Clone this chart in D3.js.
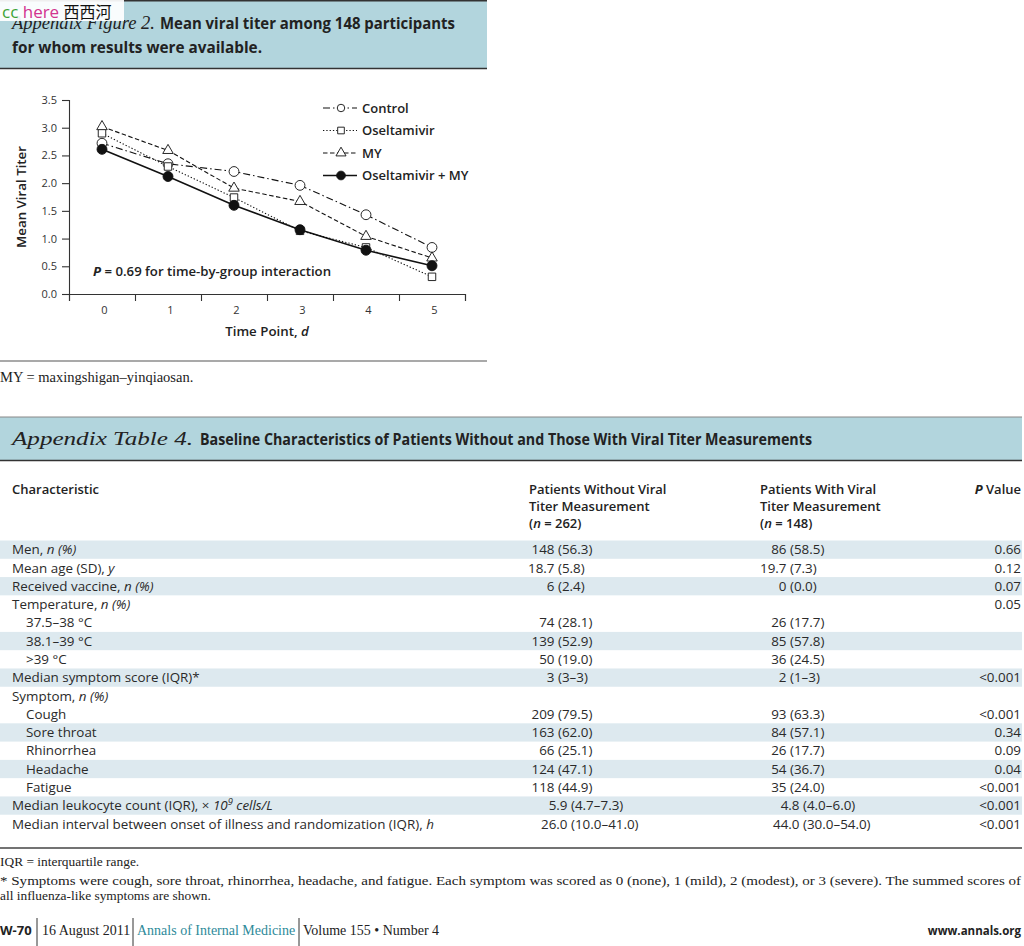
<!DOCTYPE html>
<html><head><meta charset="utf-8">
<script src="https://cdn.jsdelivr.net/npm/d3@7"></script>
<style>
html,body{margin:0;padding:0;background:#fff;}
svg{display:block;}
</style></head><body>
<svg id="page" width="1024" height="946"></svg>
<script>
// ---------- chart data ----------
const timePoints = [0, 1, 2, 3, 4, 5];
const yTickValues = [0, 0.5, 1, 1.5, 2, 2.5, 3, 3.5];
const seriesNames = ["Control", "Oseltamivir", "MY", "Oseltamivir + MY"];
const controlTiter = [2.72, 2.35, 2.21, 1.96, 1.43, 0.84];
const oseltamivirTiter = [2.90, 2.30, 1.74, 1.14, 0.84, 0.31];
const myTiter = [3.02, 2.59, 1.91, 1.67, 1.04, 0.65];
const comboTiter = [2.61, 2.12, 1.60, 1.16, 0.79, 0.51];

// ---------- table data ----------
const tableRowLabels = [
  "Men, _n (%)_", "Mean age (SD), _y_", "Received vaccine, _n (%)_", "Temperature, _n (%)_",
  "37.5–38 °C", "38.1–39 °C", ">39 °C", "Median symptom score (IQR)*", "Symptom, _n (%)_",
  "Cough", "Sore throat", "Rhinorrhea", "Headache", "Fatigue",
  "Median leukocyte count (IQR), × _10^9^ cells/L_",
  "Median interval between onset of illness and randomization (IQR), _h_"
];
const withoutTiterValues = ["148 (56.3)", "18.7 (5.8)", "6 (2.4)", "", "74 (28.1)", "139 (52.9)", "50 (19.0)", "3 (3–3)", "",
  "209 (79.5)", "163 (62.0)", "66 (25.1)", "124 (47.1)", "118 (44.9)", "5.9 (4.7–7.3)", "26.0 (10.0–41.0)"];
const withTiterValues = ["86 (58.5)", "19.7 (7.3)", "0 (0.0)", "", "26 (17.7)", "85 (57.8)", "36 (24.5)", "2 (1–3)", "",
  "93 (63.3)", "84 (57.1)", "26 (17.7)", "54 (36.7)", "35 (24.0)", "4.8 (4.0–6.0)", "44.0 (30.0–54.0)"];
const pValues = ["0.66", "0.12", "0.07", "0.05", "", "", "", "<0.001", "", "<0.001", "0.34", "0.09", "0.04", "<0.001", "<0.001", "<0.001"];
const subRowFlags = [0,0,0,0,1,1,1,0,0,1,1,1,1,1,0,0];
const shadedRowFlags = [1,0,1,0,0,1,0,1,0,0,1,0,1,0,1,0];
const headerWithout = ["Patients Without Viral", "Titer Measurement", "(_n_ = 262)"];
const headerWith = ["Patients With Viral", "Titer Measurement", "(_n_ = 148)"];

// ---------- styles ----------
const SANS = "'Open Sans', 'DejaVu Sans', sans-serif";
const SERIF = "'Liberation Serif', 'DejaVu Serif', serif";
const BOX = "#b2d5dd";
const SHADE = "#dde9ef";
const INK = "#222";

const svg = d3.select("#page");

// rich text helper: _italic_ and ^superscript^
function rich(sel, str) {
  let pendingDy = 0;
  const parts = str.split(/(_[^_]*_)/);
  parts.forEach(p => {
    if (!p) return;
    let italic = false, s = p;
    if (p.startsWith("_") && p.endsWith("_")) { italic = true; s = p.slice(1, -1); }
    s.split(/(\^[^^]*\^)/).forEach(q => {
      if (!q) return;
      if (q.startsWith("^") && q.endsWith("^")) {
        sel.append("tspan").attr("font-style", italic ? "italic" : null)
          .attr("font-size", "0.7em").attr("dy", -5).text(q.slice(1, -1));
        pendingDy = 5;
      } else {
        sel.append("tspan").attr("font-style", italic ? "italic" : null)
          .attr("dy", pendingDy || null).text(q);
        pendingDy = 0;
      }
    });
  });
  return sel;
}

// ================= FIGURE =================
svg.append("rect").attr("x", 0).attr("y", 0).attr("width", 487).attr("height", 68).attr("fill", BOX);
svg.append("line").attr("x1", 0).attr("x2", 487).attr("y1", 0.75).attr("y2", 0.75).attr("stroke", "#333").attr("stroke-width", 1.5);
svg.append("line").attr("x1", 0).attr("x2", 487).attr("y1", 68.5).attr("y2", 68.5).attr("stroke", "#333").attr("stroke-width", 1.5);

svg.append("text").attr("x", 12).attr("y", 29).attr("fill", INK)
  .attr("font-family", SERIF).attr("font-style", "italic").attr("font-size", 19)
  .attr("textLength", 143).attr("lengthAdjust", "spacingAndGlyphs").text("Appendix Figure 2.");
svg.append("text").attr("x", 160).attr("y", 29).attr("fill", INK)
  .attr("font-family", SANS).attr("font-weight", 700).attr("font-size", 15.2)
  .attr("textLength", 295).attr("lengthAdjust", "spacingAndGlyphs").text("Mean viral titer among 148 participants");
svg.append("text").attr("x", 12).attr("y", 53).attr("fill", INK)
  .attr("font-family", SANS).attr("font-weight", 700).attr("font-size", 15.2)
  .attr("textLength", 250).attr("lengthAdjust", "spacingAndGlyphs").text("for whom results were available.");

// watermark
svg.append("rect").attr("x", 0).attr("y", 0).attr("width", 124).attr("height", 21).attr("fill", "#fff").attr("opacity", 0.92);
const wm = svg.append("text").attr("x", 2).attr("y", 18).attr("font-size", 17).attr("font-family", SANS);
wm.append("tspan").attr("fill", "#3aa335").text("cc ");
wm.append("tspan").attr("fill", "#d2338f").text("here ");
wm.append("tspan").attr("fill", "#111").attr("font-family", "'Noto Sans CJK SC', sans-serif").attr("font-size", 16).text("西西河");

// plot
const x = d3.scaleLinear().domain([-0.5, 5.5]).range([69, 465]);
const y = d3.scaleLinear().domain([0, 3.5]).range([294, 100]);
const gPlot = svg.append("g");

const yAxis = gPlot.append("g").attr("transform", "translate(69,0)")
  .call(d3.axisLeft(y).tickValues(yTickValues).tickFormat(d3.format(".1f")).tickSize(7).tickPadding(4));
const xTickMarks = gPlot.append("g").attr("transform", "translate(0,294)")
  .call(d3.axisBottom(x).tickValues(d3.range(-0.5, 6, 1)).tickFormat("").tickSize(7));
const xLabels = gPlot.append("g").attr("transform", "translate(0,294)")
  .call(d3.axisBottom(x).tickValues(timePoints).tickFormat(d3.format("d")).tickSize(0).tickPadding(12));
xLabels.select(".domain").remove();
xLabels.selectAll("text").attr("dx", 2);
[yAxis, xTickMarks].forEach(g => {
  g.select(".domain").attr("stroke", "#333").attr("stroke-width", 1.1);
  g.selectAll(".tick line").attr("stroke", "#333").attr("stroke-width", 1.1);
});
[yAxis, xLabels].forEach(g => g.selectAll("text").attr("font-family", SANS).attr("font-size", 11).attr("fill", "#333"));
yAxis.selectAll("text").attr("dx", "-1");

// axis titles
svg.append("text").attr("transform", `translate(26,${(y(0) + y(3.5)) / 2}) rotate(-90)`)
  .attr("text-anchor", "middle").attr("font-family", SANS).attr("font-weight", 600).attr("font-size", 13.3).attr("fill", INK)
  .text("Mean Viral Titer");
const xt = svg.append("text").attr("x", (x(-0.5) + x(5.5)) / 2).attr("y", 336).attr("text-anchor", "middle")
  .attr("font-family", SANS).attr("font-weight", 600).attr("font-size", 13.3).attr("fill", INK);
xt.append("tspan").text("Time Point, ");
xt.append("tspan").attr("font-style", "italic").text("d");

// series
const series = [
  {name: seriesNames[0], values: controlTiter, dash: "7,3,1.5,3", marker: "circle", filled: false, width: 1.1},
  {name: seriesNames[1], values: oseltamivirTiter, dash: "1.3,2", marker: "square", filled: false, width: 1.1},
  {name: seriesNames[2], values: myTiter, dash: "4.5,2.5", marker: "triangle", filled: false, width: 1.1},
  {name: seriesNames[3], values: comboTiter, dash: null, marker: "circle", filled: true, width: 1.6}
];
const symbolMap = {circle: d3.symbolCircle, square: d3.symbolSquare, triangle: d3.symbolTriangle};
const sizeMap = {circle: 76, square: 56, triangle: 48};
const line = d3.line().x((d, i) => x(timePoints[i])).y(d => y(d));

series.forEach(s => {
  gPlot.append("path").datum(s.values).attr("d", line).attr("fill", "none")
    .attr("stroke", "#111").attr("stroke-width", s.width).attr("stroke-dasharray", s.dash);
});
series.forEach(s => {
  gPlot.selectAll(null).data(s.values).enter().append("path")
    .attr("transform", (d, i) => `translate(${x(timePoints[i])},${y(d)})`)
    .attr("d", d3.symbol().type(symbolMap[s.marker]).size(s.filled ? 78 : sizeMap[s.marker]))
    .attr("fill", s.filled ? "#111" : "#fff").attr("stroke", "#111").attr("stroke-width", 0.9);
});

// legend
const leg = svg.append("g").attr("transform", "translate(323,108)");
series.forEach((s, i) => {
  const g = leg.append("g").attr("transform", `translate(0,${i * 22.5})`);
  g.append("line").attr("x1", 0).attr("x2", 34).attr("y1", 0).attr("y2", 0)
    .attr("stroke", "#111").attr("stroke-width", s.width).attr("stroke-dasharray", s.dash);
  g.append("path").attr("transform", "translate(18,0)")
    .attr("d", d3.symbol().type(symbolMap[s.marker]).size(s.filled ? 60 : 44))
    .attr("fill", s.filled ? "#111" : "#fff").attr("stroke", "#111").attr("stroke-width", 0.9);
  g.append("text").attr("x", 39).attr("y", 4.5).attr("font-family", SANS).attr("font-weight", 600)
    .attr("font-size", 13).attr("fill", INK).text(s.name);
});

const pt = svg.append("text").attr("x", 93).attr("y", 276).attr("font-family", SANS).attr("font-weight", 600)
  .attr("font-size", 13.2).attr("fill", INK);
pt.append("tspan").attr("font-style", "italic").attr("font-weight", 700).text("P");
pt.append("tspan").text(" = 0.69 for time-by-group interaction");

svg.append("line").attr("x1", 0).attr("x2", 487).attr("y1", 361).attr("y2", 361).attr("stroke", "#555").attr("stroke-width", 1.2);
svg.append("text").attr("x", 0).attr("y", 382).attr("font-family", SERIF).attr("font-size", 14.5).attr("fill", INK)
  .text("MY = maxingshigan–yinqiaosan.");

// ================= TABLE =================
svg.append("rect").attr("x", 0).attr("y", 417).attr("width", 1022).attr("height", 43).attr("fill", BOX);
svg.append("line").attr("x1", 0).attr("x2", 1022).attr("y1", 417).attr("y2", 417).attr("stroke", "#888").attr("stroke-width", 1);
svg.append("line").attr("x1", 0).attr("x2", 1022).attr("y1", 460.5).attr("y2", 460.5).attr("stroke", "#333").attr("stroke-width", 1.5);
svg.append("text").attr("x", 12).attr("y", 445).attr("font-family", SERIF).attr("font-style", "italic")
  .attr("font-size", 18).attr("fill", INK).attr("textLength", 181).attr("lengthAdjust", "spacingAndGlyphs").text("Appendix Table 4.");
svg.append("text").attr("x", 200).attr("y", 445).attr("font-family", SANS).attr("font-weight", 700)
  .attr("font-size", 15.5).attr("fill", INK).attr("textLength", 612).attr("lengthAdjust", "spacingAndGlyphs")
  .text("Baseline Characteristics of Patients Without and Those With Viral Titer Measurements");

// header
const hdrFont = sel => sel.attr("font-family", SANS).attr("font-weight", 600).attr("font-size", 13).attr("fill", INK);
hdrFont(svg.append("text").attr("x", 12).attr("y", 494)).text("Characteristic");
headerWithout.forEach((h, i) => rich(hdrFont(svg.append("text").attr("x", 529).attr("y", 494 + i * 17)), h));
headerWith.forEach((h, i) => rich(hdrFont(svg.append("text").attr("x", 760).attr("y", 494 + i * 17)), h));
const pv = hdrFont(svg.append("text").attr("x", 1021).attr("y", 494).attr("text-anchor", "end"));
pv.append("tspan").attr("font-style", "italic").attr("font-weight", 700).text("P");
pv.append("tspan").text(" Value");

// rows
const rowY = d3.scaleBand().domain(d3.range(tableRowLabels.length)).range([540.5, 833]).paddingInner(0);
const rows = svg.append("g").selectAll("g").data(tableRowLabels).enter().append("g")
  .attr("transform", (d, i) => `translate(0,${rowY(i)})`);
rows.filter((d, i) => shadedRowFlags[i]).append("rect").attr("x", 0).attr("y", 0)
  .attr("width", 1022).attr("height", rowY.bandwidth()).attr("fill", SHADE);
const bodyFont = sel => sel.attr("font-family", SANS).attr("font-size", 13.4).attr("fill", "#2a2a2a");
rows.each(function (d, i) {
  const g = d3.select(this);
  const base = rowY.bandwidth() / 2 + 4.7;
  rich(bodyFont(g.append("text").attr("x", subRowFlags[i] ? 26 : 12).attr("y", base)), d);
  [[withoutTiterValues[i], 558], [withTiterValues[i], 790]].forEach(([v, ax]) => {
    if (!v) return;
    const k = v.indexOf(" (");
    const shift = /\d\.\d–/.test(v) ? 13 : 0;
    bodyFont(g.append("text").attr("x", ax + shift - 3.5).attr("y", base).attr("text-anchor", "end")).text(v.slice(0, k));
    bodyFont(g.append("text").attr("x", ax + shift).attr("y", base)).text(v.slice(k + 1));
  });
  if (pValues[i]) bodyFont(g.append("text").attr("x", 1021).attr("y", base).attr("text-anchor", "end")).text(pValues[i]);
});

svg.append("line").attr("x1", 0).attr("x2", 1022).attr("y1", 848).attr("y2", 848).attr("stroke", "#444").attr("stroke-width", 1.5);

// footnotes
const fn = sel => sel.attr("font-family", SERIF).attr("font-size", 13.4).attr("fill", INK);
fn(svg.append("text").attr("x", 0).attr("y", 866)).text("IQR = interquartile range.");
fn(svg.append("text").attr("x", 0).attr("y", 885).attr("textLength", 1021).attr("lengthAdjust", "spacingAndGlyphs"))
  .text("* Symptoms were cough, sore throat, rhinorrhea, headache, and fatigue. Each symptom was scored as 0 (none), 1 (mild), 2 (modest), or 3 (severe). The summed scores of");
fn(svg.append("text").attr("x", 0).attr("y", 900)).text("all influenza-like symptoms are shown.");

// page footer
svg.append("text").attr("x", 0).attr("y", 935).attr("font-family", SANS).attr("font-weight", 700).attr("font-size", 13).attr("fill", INK).text("W-70");
[37, 133, 299].forEach(xx => svg.append("line").attr("x1", xx).attr("x2", xx).attr("y1", 918).attr("y2", 946).attr("stroke", "#333").attr("stroke-width", 1));
const ff = sel => sel.attr("font-family", SERIF).attr("font-size", 14).attr("fill", INK);
ff(svg.append("text").attr("x", 42).attr("y", 935)).text("16 August 2011");
ff(svg.append("text").attr("x", 137).attr("y", 935)).attr("fill", "#2e8a9a").text("Annals of Internal Medicine");
ff(svg.append("text").attr("x", 303).attr("y", 935)).text("Volume 155 • Number 4");
svg.append("text").attr("x", 1021).attr("y", 935).attr("text-anchor", "end").attr("font-family", SANS).attr("font-weight", 700)
  .attr("font-size", 11.5).attr("fill", INK).text("www.annals.org");
</script>
</body></html>
